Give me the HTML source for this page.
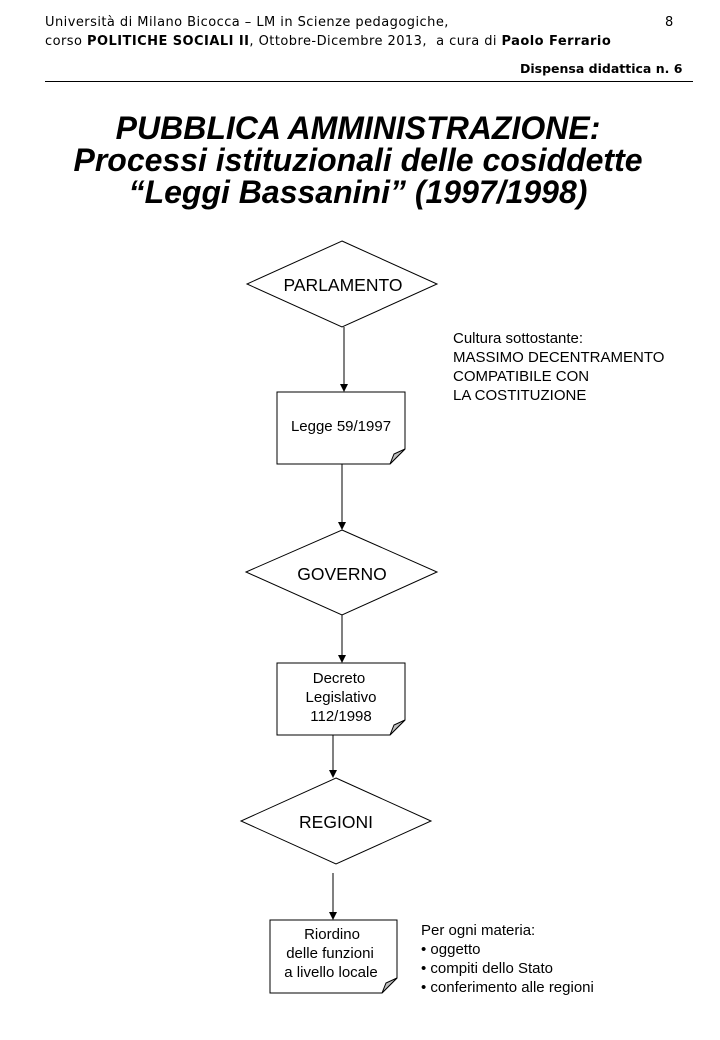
<!DOCTYPE html>
<html><head><meta charset="utf-8"><style>
body{margin:0;background:#fff;width:720px;height:1040px;position:relative;overflow:hidden}
.t{position:absolute;white-space:nowrap;color:#000}
.h{font-family:"DejaVu Sans",sans-serif;font-size:13px;letter-spacing:0.45px}
.ti{font-family:"Liberation Sans",sans-serif;font-weight:bold;font-style:italic;font-size:32px;text-align:center;width:720px;left:-2px;line-height:32px}
.s{font-family:"Liberation Sans",sans-serif;font-size:15px;line-height:19px}
</style></head><body>
<div class="t h" style="left:45px;top:15px">Università di Milano Bicocca – LM in Scienze pedagogiche,</div>
<div class="t h" style="left:665px;top:15px">8</div>
<div class="t h" style="left:45px;top:34px">corso <b>POLITICHE SOCIALI II</b>, Ottobre-Dicembre 2013,&nbsp; a cura di <b>Paolo Ferrario</b></div>
<div class="t h" style="left:520px;top:61px;font-size:12.5px;letter-spacing:0"><b>Dispensa didattica n. 6</b></div>
<div style="position:absolute;left:45px;top:81px;width:648px;height:1px;background:#000"></div>
<div class="t ti" style="top:112px">PUBBLICA AMMINISTRAZIONE:</div>
<div class="t ti" style="top:144px">Processi istituzionali delle cosiddette</div>
<div class="t ti" style="top:176px">“Leggi Bassanini” (1997/1998)</div>
<svg width="720" height="1040" style="position:absolute;left:0;top:0" font-family="Liberation Sans, sans-serif">
<g fill="#fff" stroke="#000" stroke-width="1">
<polygon points="342,241 437,284 342,327 247,284"/>
<polygon points="342,530 437,572 342,615 246,572"/>
<polygon points="336,778 431,821 336,864 241,821"/>
<path d="M277,392H405V449L390,464H277Z"/>
<path d="M277,663H405V720L390,735H277Z"/>
<path d="M270,920H397V978L382,993H270Z"/>
</g>
<g fill="#c0c0c0" stroke="#000"><path d="M390,464L394,454L405,449Z"/><path d="M390,735L394,725L405,720Z"/><path d="M382,993L386,983L397,978Z"/></g>
<g stroke="#000">
<line x1="344" y1="327" x2="344" y2="386"/>
<line x1="342" y1="464" x2="342" y2="524"/>
<line x1="342" y1="615" x2="342" y2="657"/>
<line x1="333" y1="735" x2="333" y2="772"/>
<line x1="333" y1="873" x2="333" y2="914"/>
</g>
<g fill="#000">
<path d="M340,384h8l-4,8z"/><path d="M338,522h8l-4,8z"/><path d="M338,655h8l-4,8z"/><path d="M329,770h8l-4,8z"/><path d="M329,912h8l-4,8z"/>
</g>
<g font-size="17.5" text-anchor="middle">
<text x="343" y="291">PARLAMENTO</text>
<text x="342" y="580">GOVERNO</text>
<text x="336" y="828">REGIONI</text>
</g>
<g font-size="15" text-anchor="middle">
<text x="341" y="431">Legge 59/1997</text>
<text x="339" y="683">Decreto</text>
<text x="341" y="702">Legislativo</text>
<text x="341" y="721">112/1998</text>
<text x="332" y="939">Riordino</text>
<text x="330" y="958">delle funzioni</text>
<text x="331" y="977">a livello locale</text>
</g>
</svg>
<div class="t s" style="left:453px;top:329px">Cultura sottostante:<br>MASSIMO DECENTRAMENTO<br>COMPATIBILE CON<br>LA COSTITUZIONE</div>
<div class="t s" style="left:421px;top:921px">Per ogni materia:<br>• oggetto<br>• compiti dello Stato<br>• conferimento alle regioni</div>
</body></html>
